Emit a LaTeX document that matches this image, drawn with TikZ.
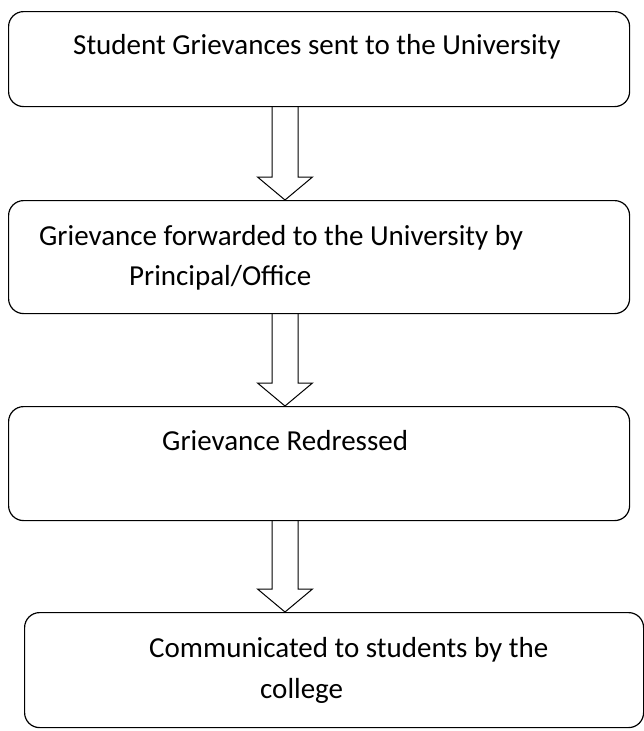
\documentclass[tikz,border=0pt]{standalone}
\usepackage{fontspec}
\setmainfont{Carlito}
\usetikzlibrary{calc}
\begin{document}
\begin{tikzpicture}[x=1pt, y=-1pt,
  stage/.style={draw, line width=1.2pt, rounded corners=15pt, anchor=north west, inner sep=0pt},
  steptext/.style={anchor=base west, inner sep=0pt, font=\fontsize{29}{35}\selectfont},
  blockarrow/.style={draw, line width=1pt}]
\useasboundingbox (0,0) rectangle (644,731);
\node[stage, minimum width=621, minimum height=95] (box1) at (8,11) {};
\node[stage, minimum width=621, minimum height=113] (box2) at (8,200) {};
\node[stage, minimum width=621, minimum height=114] (box3) at (8,406) {};
\node[stage, minimum width=619, minimum height=115] (box4) at (24,612) {};
\node[steptext] (t1) at (73,54) {Student Grievances sent to the University};
\node[steptext] (t2a) at (39,245) {Grievance forwarded to the University by};
\node[steptext] (t2b) at (129,285) {Principal/Office};
\node[steptext] (t3) at (162,450) {Grievance Redressed};
\node[steptext] (t4a) at (149,657) {Communicated to students by the};
\node[steptext] (t4b) at (260,698) {college};
\coordinate (mid) at (285,0);
\foreach \a/\b in {box1/box2, box2/box3, box3/box4}
  \draw[blockarrow] ($(\a.south -| mid)+(-13,0)$) -- ($(\b.north -| mid)+(-13,-23)$)
    -- ($(\b.north -| mid)+(-27.5,-23)$) -- (\b.north -| mid)
    -- ($(\b.north -| mid)+(27.5,-23)$) -- ($(\b.north -| mid)+(13,-23)$)
    -- ($(\a.south -| mid)+(13,0)$);
\end{tikzpicture}
\end{document}
